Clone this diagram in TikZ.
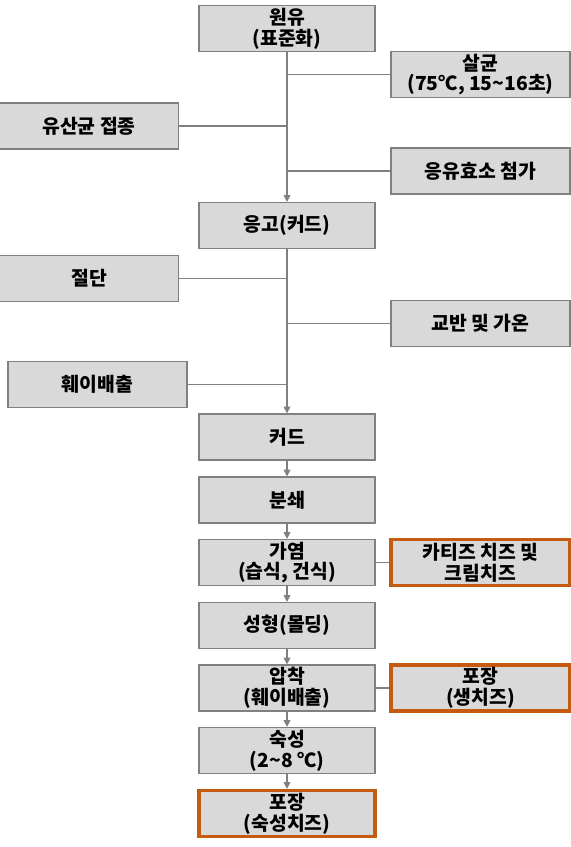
\documentclass[tikz,border=0pt]{standalone}
\usepackage{fontspec}
\setmainfont{Noto Sans CJK KR}
\usetikzlibrary{arrows.meta}

\definecolor{boxgray}{HTML}{D9D9D9}
\definecolor{linegray}{HTML}{808080}
\definecolor{pkorange}{HTML}{C55A11}

\begin{document}
\begin{tikzpicture}[x=0.75pt, y=-0.75pt,
    stepbox/.style={draw=linegray, line width=0.9pt, fill=boxgray,
      minimum width=176*0.75pt, minimum height=46*0.75pt, inner sep=0pt,
      align=center, font=\bfseries\fontsize{14.5}{15.5}\selectfont},
    sidebox/.style={stepbox, minimum width=179*0.75pt},
    packbox/.style={stepbox, draw=pkorange, line width=2.4pt},
    link/.style={draw=linegray, line width=0.8pt},
    flow/.style={link, -{Triangle[width=5pt,length=5pt]}}]
      \useasboundingbox (0,0) rectangle (571,847);

      % main column
      \node[stepbox] (raw) at (287, 28.5) {원유\\(표준화)};
      \node[stepbox] (coag) at (287, 225.5) {응고(커드)};
      \node[stepbox] (curd) at (287, 437) {커드};
      \node[stepbox] (mill) at (287, 500) {분쇄};
      \node[stepbox] (heat) at (287, 562.5) {가염\\(습식, 건식)};
      \node[stepbox] (mold) at (287, 625.5) {성형(몰딩)};
      \node[stepbox] (press) at (287, 688) {압착\\(훼이배출)};
      \node[stepbox] (ripen) at (287, 750.5) {숙성\\(2\textasciitilde 8 ℃)};
      \node[packbox] (packripe) at (287, 813.5) {포장\\(숙성치즈)};

      % side steps
      \node[sidebox] (steril) at (480.5, 74.5) {살균\\(75℃, 15\textasciitilde 16초)};
      \node[sidebox] (starter) at (89, 126) {유산균 접종};
      \node[sidebox] (rennet) at (480.5, 171) {응유효소 첨가};
      \node[sidebox] (cut) at (89, 278.5) {절단};
      \node[sidebox] (stir) at (480.5, 323.5) {교반 및 가온};
      \node[sidebox] (whey) at (97.5, 384.5) {훼이배출};
      \node[packbox, minimum width=179*0.75pt] (cottage) at (480.5, 562.5) {카티즈 치즈 및\\크림치즈};
      \node[packbox, minimum width=179*0.75pt] (packfresh) at (480.5, 688) {포장\\(생치즈)};

      % trunk
      \draw[flow] (raw) -- (coag);
      \draw[flow] (coag) -- (curd);
      \draw[flow] (curd) -- (mill);
      \draw[flow] (mill) -- (heat);
      \draw[flow] (heat) -- (mold);
      \draw[flow] (mold) -- (press);
      \draw[flow] (press) -- (ripen);
      \draw[flow] (ripen) -- (packripe);

      % branches
      \draw[link] (steril.west) -- (steril.west -| raw.south);
      \draw[link] (starter.east) -- (starter.east -| raw.south);
      \draw[link] (rennet.west) -- (rennet.west -| raw.south);
      \draw[link] (cut.east) -- (cut.east -| coag.south);
      \draw[link] (stir.west) -- (stir.west -| coag.south);
      \draw[link] (whey.east) -- (whey.east -| coag.south);
      \draw[link] (cottage) -- (heat);
      \draw[link] (packfresh) -- (press);
\end{tikzpicture}
\end{document}
